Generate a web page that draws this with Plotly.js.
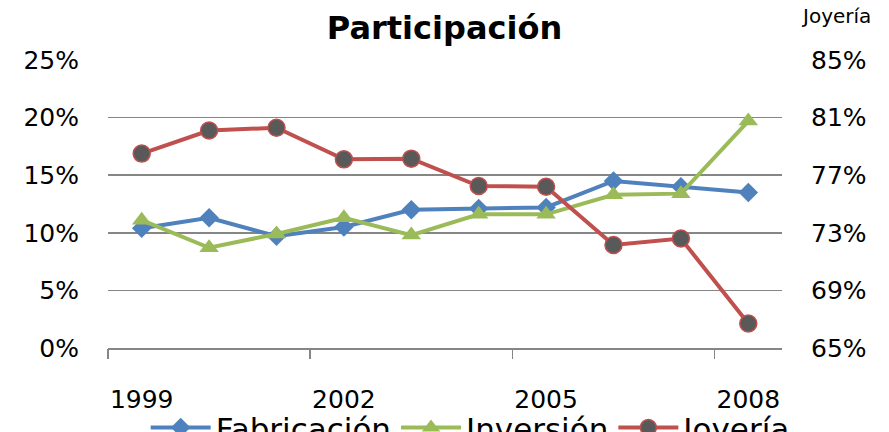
<!DOCTYPE html>
<html><head><meta charset="utf-8">
<script src="https://cdn.plot.ly/plotly-3.0.1.min.js"></script>
<style>body{margin:0;background:#fff}#c{width:889px;height:432px}</style>
</head><body><div id="c"></div>
<script>
const years = [1999, 2000, 2001, 2002, 2003, 2004, 2005, 2006, 2007, 2008];
const fabricacion = [0.104, 0.113, 0.097, 0.105, 0.120, 0.121, 0.122, 0.145, 0.140, 0.135];
const inversion = [0.111, 0.087, 0.099, 0.113, 0.098, 0.116, 0.116, 0.133, 0.134, 0.197];
const joyeria = [0.785, 0.801, 0.803, 0.781, 0.7815, 0.7625, 0.762, 0.7215, 0.726, 0.667];
const xTickVals = [1999, 2002, 2005, 2008];
const xTickText = ['1999', '2002', '2005', '2008'];
const xBoundaryTicks = [1998.5, 2001.5, 2004.5, 2007.5];
const leftTicks = [0, 0.05, 0.10, 0.15, 0.20, 0.25];
const rightTicks = [0.65, 0.69, 0.73, 0.77, 0.81, 0.85];
const names = ['Fabricación', 'Inversión', 'Joyería'];

const FONT = 'DejaVu Sans, sans-serif';
const traces = [
  {x: years, y: fabricacion, name: names[0], type: 'scatter', mode: 'lines+markers',
   line: {color: '#4F81BD', width: 4}, marker: {symbol: 'diamond', size: 15, color: '#4F81BD'}},
  {x: years, y: inversion, name: names[1], type: 'scatter', mode: 'lines+markers',
   line: {color: '#9BBB59', width: 4}, marker: {symbol: 'triangle-up', size: 17, color: '#9BBB59'}},
  {x: years, y: joyeria, name: names[2], type: 'scatter', mode: 'lines+markers', yaxis: 'y2',
   line: {color: '#C0504D', width: 4},
   marker: {symbol: 'circle', size: 17, color: '#595959', line: {color: '#C0504D', width: 1.5}}},
  {x: [xBoundaryTicks[0]], y: [null], xaxis: 'x2', showlegend: false, hoverinfo: 'skip', type: 'scatter'}
];

const layout = {
  width: 889, height: 432,
  margin: {l: 108, r: 107, t: 60, b: 84},
  paper_bgcolor: '#fff', plot_bgcolor: '#fff',
  font: {family: FONT, size: 24, color: '#000'},
  title: {text: '<b>Participación</b>', font: {family: FONT, size: 32, color: '#000'},
          x: 0.5, xanchor: 'center', y: 0.935, yanchor: 'middle'},
  showlegend: true,
  legend: {orientation: 'h', xref: 'container', yref: 'container', x: 0.53, xanchor: 'center',
           y: 0.072, yanchor: 'top', font: {family: FONT, size: 31, color: '#000'},
           itemwidth: 60, tracegroupgap: 0, bgcolor: 'rgba(0,0,0,0)'},
  xaxis: {type: 'linear', range: [1998.5, 2008.5], tickvals: xTickVals, ticktext: xTickText,
          ticks: '', showgrid: false, zeroline: false, showline: true, linecolor: '#868686', linewidth: 1.5,
          ticklabelstandoff: 28, tickfont: {family: FONT, size: 25, color: '#000'}},
  xaxis2: {type: 'linear', overlaying: 'x', anchor: 'y', side: 'bottom', range: [1998.5, 2008.5],
           tickvals: xBoundaryTicks, ticks: 'outside', ticklen: 10, tickwidth: 1.5, tickcolor: '#868686',
           showticklabels: false, showgrid: false, zeroline: false, showline: false},
  yaxis: {range: [0, 0.25], tickvals: leftTicks, tickformat: '.0%', ticks: '',
          showgrid: true, gridcolor: '#868686', gridwidth: 1.5, zeroline: false, showline: false,
          ticklabelstandoff: 28, tickfont: {family: FONT, size: 25, color: '#000'}},
  yaxis2: {range: [0.65, 0.85], tickvals: rightTicks, tickformat: '.0%', overlaying: 'y', side: 'right',
           ticks: '', showgrid: false, zeroline: false, showline: false,
           ticklabelstandoff: 28, tickfont: {family: FONT, size: 25, color: '#000'}},
  annotations: [{text: 'Joyería', xref: 'paper', yref: 'paper', x: 1.08, y: 1.153, xanchor: 'center',
                 yanchor: 'middle', showarrow: false, font: {family: FONT, size: 20, color: '#000'}}]
};
Plotly.newPlot('c', traces, layout, {displayModeBar: false, staticPlot: true});
</script></body></html>
